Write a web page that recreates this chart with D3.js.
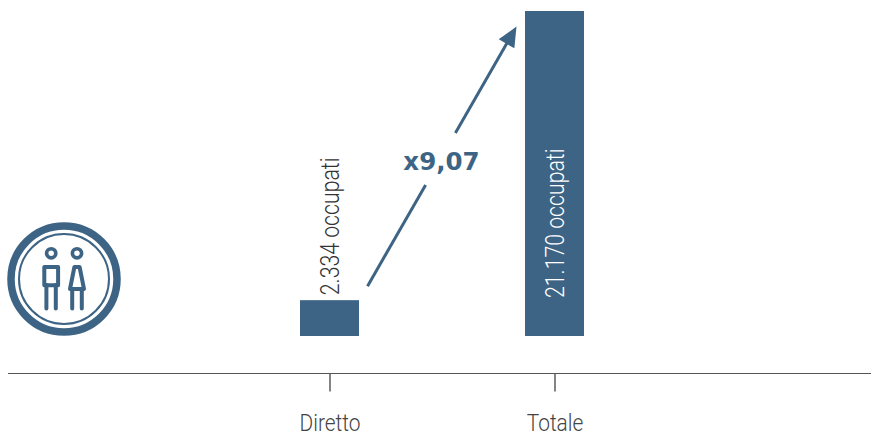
<!DOCTYPE html>
<html>
<head>
<meta charset="utf-8">
<script src="https://cdn.jsdelivr.net/npm/d3@7"></script>
<style>
html,body{margin:0;padding:0;background:#fff}
svg{display:block}
text{font-family:"Roboto",sans-serif;font-weight:300}
</style>
</head>
<body>
<svg id="chart" width="871" height="436"></svg>
<script>
const categories = ["Diretto", "Totale"];
const employed = [2334, 21170];
const valueLabels = ["2.334 occupati", "21.170 occupati"];
const multiplierLabel = "x9,07";

const BLUE = "#3d6484";
const INK = "#333333";
const condense = 0.85;

const svg = d3.select("#chart");
const x = d3.scalePoint().domain(categories).range([329.5, 554.5]);
const y = d3.scaleLinear().domain([0, d3.max(employed)]).range([336, 11]);
const barWidth = 59;
const axisY = 373.5;

// Bars
svg.append("g").selectAll("rect").data(categories).join("rect")
  .attr("x", d => x(d) - barWidth / 2)
  .attr("width", barWidth)
  .attr("y", (d, i) => y(employed[i]))
  .attr("height", (d, i) => y(0) - y(employed[i]))
  .attr("fill", BLUE);

// Rotated value labels
const labelX = [x(categories[0]) + 9, x(categories[1]) + 9.5];
const labelY = [y(employed[0]) - 5, y(0) - 38];
svg.append("g").selectAll("text").data(valueLabels).join("text")
  .attr("transform", (d, i) => `translate(${labelX[i]},${labelY[i]}) rotate(-90) scale(${condense},1)`)
  .attr("font-size", 25)
  .attr("fill", (d, i) => i === 0 ? INK : "#ffffff")
  .text(d => d);

// Axis
const axis = svg.append("g").attr("transform", `translate(0,${axisY})`)
  .call(d3.axisBottom(x).tickSize(18).tickPadding(22.5));
axis.select(".domain").remove();
axis.selectAll(".tick line").attr("stroke", INK).attr("stroke-width", 1.2);
axis.selectAll(".tick text")
  .attr("font-size", 24).attr("fill", "#444")
  .attr("font-family", "Roboto").attr("font-weight", 300)
  .attr("transform", `scale(${condense + 0.02},1)`);
svg.append("line")
  .attr("x1", 8).attr("x2", 871).attr("y1", axisY).attr("y2", axisY)
  .attr("stroke", "#555").attr("stroke-width", 1.2);

// Growth arrow between the two bars, broken around the multiplier
const ax0 = x(categories[0]) + 38, ay0 = y(employed[0]) - 14;
const ax1 = x(categories[1]) - 38, ay1 = y(employed[1]) + 15.5;
const along = t => [ax0 + (ax1 - ax0) * t, ay0 + (ay1 - ay0) * t];
const seg = [[0, 0.39], [0.59, 0.945]];
svg.append("g").selectAll("line").data(seg).join("line")
  .attr("x1", d => along(d[0])[0]).attr("y1", d => along(d[0])[1])
  .attr("x2", d => along(d[1])[0]).attr("y2", d => along(d[1])[1])
  .attr("stroke", BLUE).attr("stroke-width", 3);
const ang = Math.atan2(ay1 - ay0, ax1 - ax0) * 180 / Math.PI;
svg.append("path")
  .attr("d", "M0,0L-20,-9L-20,9Z")
  .attr("transform", `translate(${ax1},${ay1}) rotate(${ang})`)
  .attr("fill", BLUE);
svg.append("text")
  .attr("x", 441.5).attr("y", 170)
  .attr("text-anchor", "middle")
  .attr("font-size", 24.5)
  .attr("fill", BLUE)
  .style("font-family", "'DejaVu Sans'").style("font-weight", 700)
  .text(multiplierLabel);

// People pictogram
const icon = svg.append("g").attr("transform", "translate(64,279)")
  .attr("fill", "none").attr("stroke", BLUE);
icon.append("circle").attr("r", 53).attr("stroke-width", 7.5);
icon.append("circle").attr("r", 45).attr("stroke-width", 2);
const man = icon.append("g").attr("transform", "translate(-12.8,0)");
man.append("circle").attr("cy", -25.7).attr("r", 4.6).attr("stroke-width", 3.6);
man.append("rect").attr("x", -6.9).attr("y", -12).attr("width", 13.8).attr("height", 18.3)
  .attr("stroke-width", 4).attr("stroke-linejoin", "round");
man.append("path").attr("d", "M-4.8,6V29.5M4.6,6V29.5").attr("stroke-width", 4).attr("stroke-linecap", "round");
const woman = icon.append("g").attr("transform", "translate(13,0)");
woman.append("circle").attr("cy", -25.7).attr("r", 4.6).attr("stroke-width", 3.6);
woman.append("path").attr("d", "M-2.6,-12H2.6L7,10H-7Z")
  .attr("stroke-width", 4).attr("stroke-linejoin", "round");
woman.append("path").attr("d", "M-4.8,10V29.5M4.8,10V29.5").attr("stroke-width", 4).attr("stroke-linecap", "round");
</script>
</body>
</html>
